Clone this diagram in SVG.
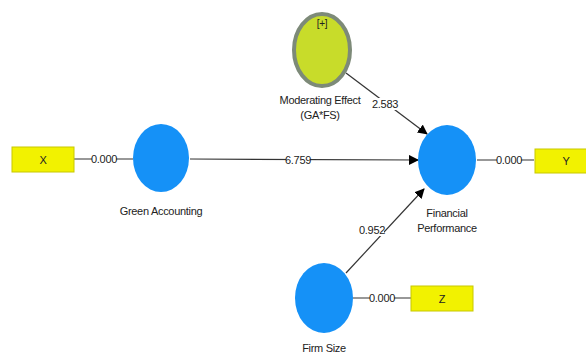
<svg xmlns="http://www.w3.org/2000/svg" width="586" height="354" viewBox="0 0 586 354">
<style>
text{font-family:"Liberation Sans",Arial,sans-serif;font-size:11px;letter-spacing:-0.3px;fill:#222;text-anchor:middle}
.lv{fill:#1591f7}
.box{fill:#f2f200;stroke:#c8c800;stroke-width:1}
.ln{stroke:#333;stroke-width:1.2;fill:none}
.bg{fill:#fff}
</style>
<defs>
<marker id="ah" markerWidth="10" markerHeight="10" refX="9" refY="5" orient="auto" markerUnits="userSpaceOnUse">
<path d="M0,0 L10,5 L0,10 Z" fill="#000"/>
</marker>
</defs>
<rect width="586" height="354" fill="#fff"/>
<g id="connectors">
<line class="ln" x1="74" y1="159" x2="133" y2="159"/>
<line class="ln" x1="190" y1="159" x2="418" y2="160" marker-end="url(#ah)"/>
<line class="ln" x1="346" y1="73" x2="427" y2="134" marker-end="url(#ah)"/>
<line class="ln" x1="346" y1="273" x2="424" y2="189" marker-end="url(#ah)"/>
<line class="ln" x1="477" y1="160" x2="534" y2="160"/>
<line class="ln" x1="353" y1="298" x2="411" y2="298"/>
<rect class="bg" x="92" y="153" width="24" height="12"/>
<text x="104" y="163">0.000</text>
<rect class="bg" x="286" y="154" width="24" height="12"/>
<text x="298" y="164">6.759</text>
<rect class="bg" x="373" y="98" width="24" height="12"/>
<text x="385" y="108">2.583</text>
<rect class="bg" x="360" y="224" width="24" height="12"/>
<text x="372" y="234">0.952</text>
<rect class="bg" x="497" y="154" width="24" height="12"/>
<text x="509" y="164">0.000</text>
<rect class="bg" x="370" y="292" width="24" height="12"/>
<text x="382" y="302">0.000</text>
</g>
<g id="X"><rect class="box" x="12" y="147" width="62" height="25"/><text x="43" y="164">X</text></g>
<g id="Y"><rect class="box" x="535" y="149" width="52" height="24"/><text x="566" y="165">Y</text></g>
<g id="Z"><rect class="box" x="411" y="286" width="62" height="25"/><text x="442" y="303">Z</text></g>
<g id="ME">
<ellipse cx="322" cy="50" rx="28" ry="36" fill="#c8dc2a" stroke="#7d8a78" stroke-width="4"/>
<text x="322" y="27" style="font-size:10px">[+]</text>
<text x="320" y="104">Moderating Effect</text>
<text x="320" y="119">(GA*FS)</text>
</g>
<g id="GA">
<ellipse class="lv" cx="161" cy="158" rx="28" ry="34"/>
<text x="161" y="215">Green Accounting</text>
</g>
<g id="FP">
<ellipse class="lv" cx="447" cy="160" rx="29" ry="35"/>
<text x="447" y="217">Financial</text>
<text x="447" y="232">Performance</text>
</g>
<g id="FS">
<ellipse class="lv" cx="324" cy="298" rx="29" ry="35"/>
<text x="324" y="352">Firm Size</text>
</g>
</svg>
